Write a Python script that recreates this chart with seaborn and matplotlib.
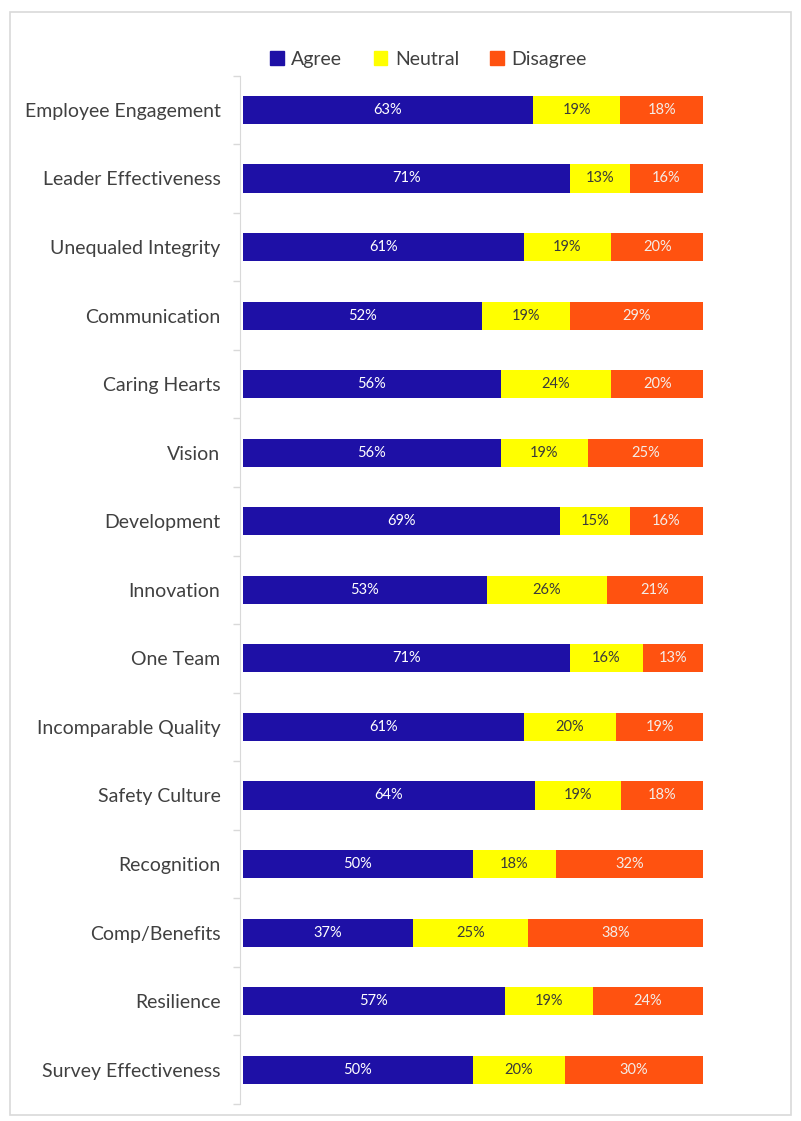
import numpy as np
import pandas as pd
import matplotlib
matplotlib.use('Agg')
import matplotlib.pyplot as plt
from matplotlib.patches import Patch, Rectangle
import seaborn as sns

# survey categories, top to bottom
categories = ['Employee Engagement', 'Leader Effectiveness', 'Unequaled Integrity',
              'Communication', 'Caring Hearts', 'Vision', 'Development', 'Innovation',
              'One Team', 'Incomparable Quality', 'Safety Culture', 'Recognition',
              'Comp/Benefits', 'Resilience', 'Survey Effectiveness']
agree = [63, 71, 61, 52, 56, 56, 69, 53, 71, 61, 64, 50, 37, 57, 50]
neutral = [19, 13, 19, 19, 24, 19, 15, 26, 16, 20, 19, 18, 25, 19, 20]
disagree = [18, 16, 20, 29, 20, 25, 16, 21, 13, 19, 18, 32, 38, 24, 30]

blue = '#1E10A6'
yellow = '#FFFF00'
orange = '#FF5210'

df = pd.DataFrame({'cat': categories, 'Agree': agree, 'Neutral': neutral, 'Disagree': disagree})
tot = df[['Agree', 'Neutral', 'Disagree']].sum(axis=1)
# 100% stacked, so normalise each row
df['a'] = df['Agree'] / tot
df['an'] = (df['Agree'] + df['Neutral']) / tot
df['all'] = 1.0

sns.set_style('white')
plt.rcParams['font.family'] = ['Lato', 'DejaVu Sans']

fig = plt.figure(figsize=(8.01, 11.21), dpi=100)
ax = fig.add_axes([0.303, 0.0152, 0.575, 0.9173])

# draw full bars back to front so they look stacked
for col, c in [('all', orange), ('an', yellow), ('a', blue)]:
    sns.barplot(data=df, y='cat', x=col, color=c, width=0.41, saturation=1, linewidth=0, ax=ax)

for i, row in df.iterrows():
    ax.text(row['a'] / 2, i, f"{row['Agree']}%", ha='center', va='center', color='white', fontsize=10.5)
    ax.text((row['a'] + row['an']) / 2, i, f"{row['Neutral']}%", ha='center', va='center', color='#3A3A3A', fontsize=10.5)
    ax.text((row['an'] + 1) / 2, i, f"{row['Disagree']}%", ha='center', va='center', color='#F4EDE8', fontsize=10.5)

ax.set_xlim(0, 1)
ax.set_ylim(len(categories) - 0.5, -0.5)
ax.set_xlabel('')
ax.set_ylabel('')
ax.set_xticks([])
for s in ['top', 'right', 'bottom']:
    ax.spines[s].set_visible(False)
ax.spines['left'].set_color('#D9D9D9')
ax.spines['left'].set_position(('outward', 2))
ax.tick_params(axis='y', which='major', length=0, pad=14, labelsize=14, labelcolor='#404040')
ax.set_yticks(np.arange(len(categories) + 1) - 0.5, minor=True)
ax.tick_params(axis='y', which='minor', left=True, length=5, width=1, color='#D9D9D9')

handles = [Patch(color=blue, label='Agree'), Patch(color=yellow, label='Neutral'),
           Patch(color=orange, label='Disagree')]
fig.legend(handles=handles, loc='center', bbox_to_anchor=(0.535, 0.947), ncol=3, frameon=False,
           fontsize=14, handlelength=0.7, handleheight=0.7, handletextpad=0.4, columnspacing=1.6,
           labelcolor='#404040')

# light frame around the chart
fig.patches.append(Rectangle((0.012, 0.005), 0.975, 0.984, transform=fig.transFigure,
                             fill=False, edgecolor='#D9D9D9', linewidth=1.2))

fig.savefig('out.png', dpi=100)
